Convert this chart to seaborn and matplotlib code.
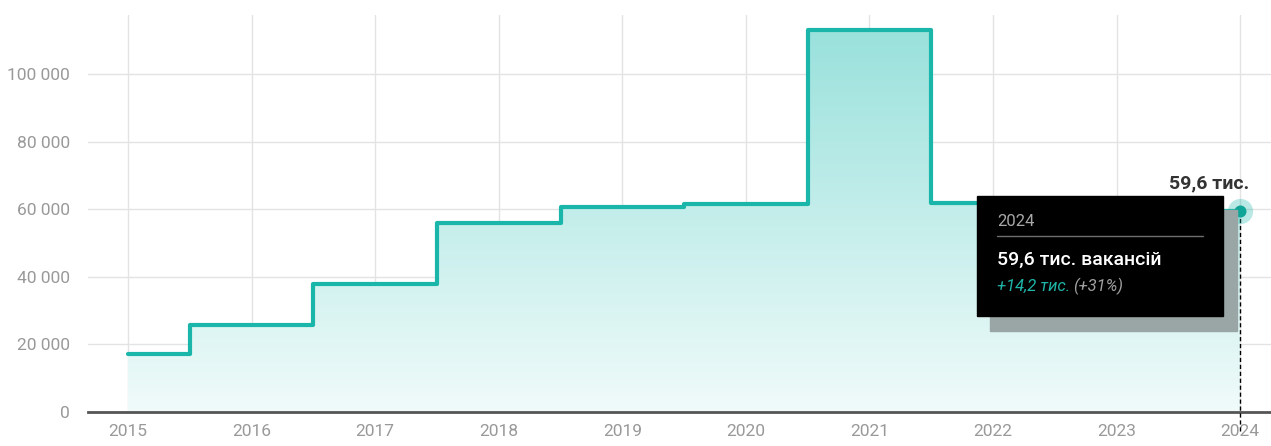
import numpy as np
import pandas as pd
import seaborn as sns
import matplotlib.pyplot as plt
from matplotlib.colors import LinearSegmentedColormap
from matplotlib.patches import Rectangle
from matplotlib.ticker import FuncFormatter

years = [2015, 2016, 2017, 2018, 2019, 2020, 2021, 2022, 2023, 2024]
vacancies = [17300, 25800, 37900, 55900, 60700, 61500, 113000, 61800, 45400, 59600]
y_ticks = [0, 20000, 40000, 60000, 80000, 100000]

tip_year = "2024"
tip_value = "59,6 тис. вакансій"
tip_delta = "+14,2 тис."
tip_pct = "(+31%)"
last_label = "59,6 тис."

df = pd.DataFrame({"year": years, "value": vacancies})

sns.set_style("white")
plt.rcParams["font.family"] = ["Roboto", "DejaVu Sans"]

teal = "#19b6a9"
fig = plt.figure(figsize=(12.71, 4.46), dpi=100)
ax = fig.add_axes([88 / 1271, 34 / 446, 1 - 88 / 1271, (412 - 15) / 446])

ax.set_xlim(2014.676, 2024.25)
ax.set_ylim(0, 117500)

# gradient fill under the step line
fill = ax.fill_between(df["year"], df["value"], step="mid", color="none")
cmap = LinearSegmentedColormap.from_list("g", ["#f0fbfa", "#9ae1dc"])
grad = np.linspace(0, 1, 256).reshape(-1, 1) * (117500 / max(vacancies))
img = ax.imshow(grad, extent=[2014.676, 2024.25, 0, 117500], origin="lower",
                aspect="auto", cmap=cmap, vmin=0, vmax=1, zorder=1)
img.set_clip_path(fill.get_paths()[0], transform=ax.transData)

sns.lineplot(data=df, x="year", y="value", drawstyle="steps-mid", color=teal,
             linewidth=3, ax=ax, zorder=3)

ax.set_xticks(years)
ax.set_yticks(y_ticks)
ax.yaxis.set_major_formatter(FuncFormatter(lambda v, p: f"{int(v):,}".replace(",", " ")))
ax.grid(True, color="#e3e3e3", linewidth=1)
ax.set_axisbelow(True)
for s in ["top", "right", "left"]:
    ax.spines[s].set_visible(False)
ax.spines["bottom"].set_color("#555555")
ax.spines["bottom"].set_linewidth(2)
ax.tick_params(axis="both", length=0, labelsize=12.5, labelcolor="#999999")
ax.tick_params(axis="x", pad=9)
ax.tick_params(axis="y", pad=13)
ax.set_xlabel("")
ax.set_ylabel("")

# last point highlight
lx, ly = years[-1], vacancies[-1]
ax.plot([lx, lx], [-5500, ly], color="black", linestyle=(0, (3, 2)), linewidth=1,
        zorder=4, clip_on=False)
ax.scatter([lx], [ly], s=330, color=teal, alpha=0.3, zorder=5, linewidths=0)
ax.scatter([lx], [ly], s=75, color="#11a597", zorder=6, linewidths=0)
ax.annotate(last_label, (lx, ly), xytext=(-22, 13), textcoords="offset points",
            ha="center", va="bottom", fontsize=14, fontweight="bold", color="#333333")

# tooltip
W, H = 1271, 446
def fx(px):
    return px / W
def fy(py):
    return 1 - py / H

fig.patches.append(Rectangle((fx(990), fy(331)), fx(1237) - fx(990), fy(210) - fy(331),
                             transform=fig.transFigure, color="#9aa6a5", zorder=10))
fig.patches.append(Rectangle((fx(977), fy(316)), fx(1223) - fx(977), fy(196) - fy(316),
                             transform=fig.transFigure, color="black", zorder=11))
fig.lines.append(plt.Line2D([fx(997), fx(1203)], [fy(236), fy(236)], transform=fig.transFigure,
                            color="#6f6f6f", linewidth=1, zorder=12))
fig.text(fx(997), fy(222), tip_year, color="#a8a8a8", fontsize=12, va="center", zorder=12)
fig.text(fx(997), fy(260), tip_value, color="white", fontsize=14, fontweight="medium",
         va="center", zorder=12)
fig.text(fx(997), fy(286), tip_delta, color="#1fb5a8", fontsize=12, style="italic",
         va="center", zorder=12)
fig.text(fx(1073), fy(286), tip_pct, color="#a0a0a0", fontsize=12, style="italic",
         va="center", zorder=12)

fig.savefig("out.png", dpi=100)
